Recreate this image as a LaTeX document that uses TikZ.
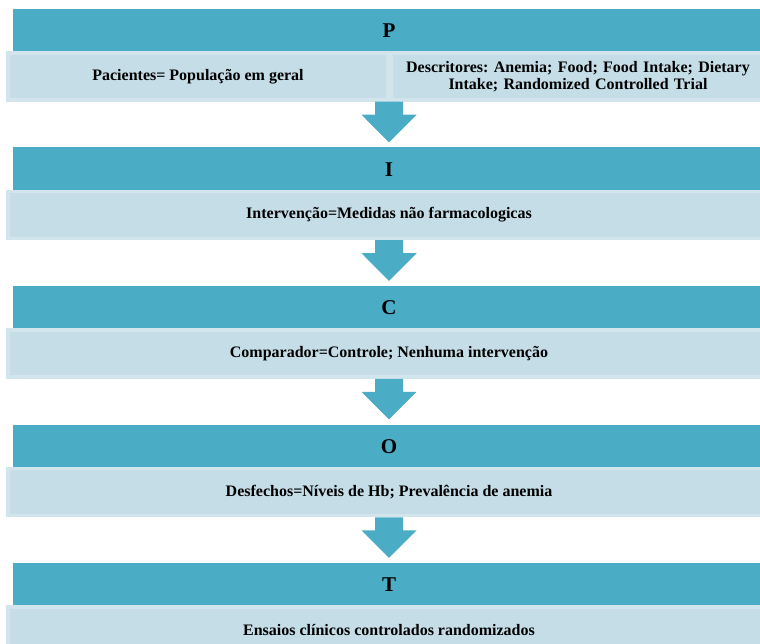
\documentclass[tikz,border=0pt]{standalone}
\usepackage{fontspec}
\setmainfont{Liberation Serif}
\usepackage{xcolor}
\usepackage{tikz}
\usetikzlibrary{positioning,calc}
\frenchspacing

\definecolor{bandblue}{HTML}{4BACC6}
\definecolor{cellblue}{HTML}{C4DDE6}
\definecolor{cellrim}{HTML}{D2E5EC}

\tikzset{
  band/.style={fill=bandblue, draw=none, minimum width=752pt, minimum height=44pt,
    inner sep=0pt, font=\bfseries\fontsize{21}{24}\selectfont},
  cell/.style={fill=cellblue, draw=cellrim, line width=3.5pt, minimum height=47pt,
    inner sep=0pt, align=center, font=\bfseries\fontsize{16}{17.5}\selectfont},
}

% block arrow from one node down to the next
\newcommand{\flowarrow}[2]{%
  \fill[bandblue] ($(#1.south)+(-14,0)$) -- ($(#1.south)+(14,0)$)
    -- ($(#1.south)+(14,13)$) -- ($(#1.south)+(27.5,13)$)
    -- ($(#2.north)+(0,-5)$)
    -- ($(#1.south)+(-27.5,13)$) -- ($(#1.south)+(-14,13)$) -- cycle;}

\begin{document}
\begin{tikzpicture}[x=1pt, y=-1pt]
\useasboundingbox (0,0) rectangle (760,644);
\clip (0,0) rectangle (760,644);
\fill[white] (0,0) rectangle (760,644);

% === P ===
\node[band] (P) at (389, 31) {P};
\node[cell, fill=cellrim, minimum width=762pt] (Pbox) at (389, 76.5) {};
\node[cell, minimum width=380pt] (Ppac) at (198, 76.5) {Pacientes= População em geral};
\node[cell, minimum width=374pt, text width=360pt] (Pdesc) at (578, 76.5)
  {Descritores: Anemia; Food; Food Intake; Dietary\\Intake; Randomized Controlled Trial};

% === I ===
\node[band] (I) at (389, 169.5) {I};
\node[cell, minimum width=762pt] (Ibox) at (389, 215) {Intervenção=Medidas não farmacologicas};

% === C ===
\node[band] (C) at (389, 308) {C};
\node[cell, minimum width=762pt] (Cbox) at (389, 353.5) {Comparador=Controle; Nenhuma intervenção};

% === O ===
\node[band] (O) at (389, 446.5) {O};
\node[cell, minimum width=762pt] (Obox) at (389, 492) {Desfechos=Níveis de Hb; Prevalência de anemia};

% === T ===
\node[band] (T) at (389, 585) {T};
\node[cell, minimum width=762pt] (Tbox) at (389, 630.5) {Ensaios clínicos controlados randomizados};

% arrows between blocks
\flowarrow{Pbox}{I}
\flowarrow{Ibox}{C}
\flowarrow{Cbox}{O}
\flowarrow{Obox}{T}

\end{tikzpicture}
\end{document}
